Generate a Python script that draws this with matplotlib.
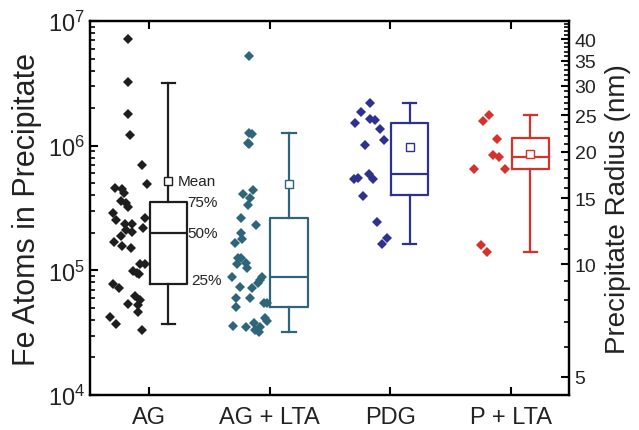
import numpy as np
import matplotlib
matplotlib.use("Agg")
import matplotlib.pyplot as plt
from matplotlib.ticker import FixedLocator, NullFormatter, LogLocator

plt.rcParams['font.family'] = ['Liberation Sans', 'DejaVu Sans']
plt.rcParams['mathtext.default'] = 'regular'
plt.rcParams['text.color'] = '#222222'
plt.rcParams['axes.labelcolor'] = '#222222'
plt.rcParams['xtick.labelcolor'] = '#222222'
plt.rcParams['ytick.labelcolor'] = '#222222'

groups = ['AG', 'AG + LTA', 'PDG', 'P + LTA']
colors = ['#1e1e1e', '#2f6579', '#2e3190', '#d6322c']

# scatter: atoms per precipitate and horizontal jitter (category units)
ag_vals = [7.18e6, 3.23e6, 1.78e6, 1.21e6, 7.05e5, 4.90e5, 4.59e5, 4.53e5, 4.21e5, 3.58e5,
           3.48e5, 3.23e5, 2.61e5, 2.91e5, 2.53e5, 2.35e5, 2.35e5, 2.10e5, 2.04e5, 2.17e5,
           1.89e5, 1.70e5, 1.57e5, 1.50e5, 1.12e5, 1.12e5, 9.95e4, 9.46e4, 9.29e4, 7.73e4,
           7.18e4, 6.28e4, 5.78e4, 5.37e4, 5.28e4, 4.61e4, 4.26e4, 3.70e4, 3.33e4]
ag_jit = [-0.17, -0.17, -0.17, -0.16, -0.055, -0.014, -0.28, -0.22, -0.21, -0.23,
          -0.19, -0.17, -0.033, -0.30, -0.27, -0.20, -0.14, -0.19, -0.14, -0.047,
          -0.23, -0.29, -0.22, -0.15, -0.074, -0.033, -0.13, -0.10, -0.08, -0.30,
          -0.25, -0.12, -0.074, -0.17, -0.093, -0.093, -0.32, -0.27, -0.06]

agl_vals = [5.21e6, 1.27e6, 1.25e6, 1.06e6, 1.04e6, 4.38e5, 4.13e5, 3.77e5, 3.33e5, 2.61e5,
            2.30e5, 2.00e5, 1.80e5, 1.67e5, 1.26e5, 1.25e5, 1.14e5, 1.12e5, 1.04e5, 8.90e4,
            8.90e4, 8.36e4, 7.87e4, 7.41e4, 7.27e4, 6.05e4, 5.97e4, 5.12e4, 5.45e4, 5.45e4,
            3.58e4, 3.54e4, 4.13e4, 3.89e4, 3.77e4, 3.33e4, 3.23e4, 3.54e4]
agl_jit = [-0.17, -0.17, -0.15, -0.18, -0.17, -0.14, -0.22, -0.16, -0.18, -0.24,
           -0.11, -0.24, -0.23, -0.29, -0.26, -0.24, -0.20, -0.27, -0.19, -0.31,
           -0.066, -0.08, -0.10, -0.25, -0.15, -0.28, -0.16, -0.28, -0.05, -0.025,
           -0.30, -0.20, -0.04, -0.025, -0.13, -0.12, -0.09, -0.08]

pdg_vals = [2.20e6, 1.86e6, 1.52e6, 1.64e6, 1.62e6, 1.35e6, 1.12e6, 1.02e6, 5.97e5, 5.55e5,
            5.37e5, 5.45e5, 3.96e5, 2.42e5, 1.83e5, 1.62e5]
pdg_jit = [-0.17, -0.24, -0.29, -0.17, -0.13, -0.09, -0.05, -0.21, -0.18, -0.27,
           -0.30, -0.14, -0.23, -0.11, -0.03, -0.07]

plta_vals = [1.77e6, 1.58e6, 1.14e6, 8.47e5, 8.12e5, 6.46e5, 6.46e5, 1.59e5, 1.41e5]
plta_jit = [-0.18, -0.23, -0.12, -0.15, -0.10, -0.31, -0.05, -0.25, -0.20]

# box statistics
q1 = [7.7e4, 5.12e4, 4.0e5, 6.55e5]
med = [1.98e5, 8.9e4, 5.97e5, 8.12e5]
q3 = [3.56e5, 2.61e5, 1.53e6, 1.15e6]
lo = [3.7e4, 3.23e4, 1.62e5, 1.41e5]
hi = [3.19e6, 1.27e6, 2.21e6, 1.77e6]
mean = [5.25e5, 4.97e5, 9.78e5, 8.63e5]

radius_ticks = [5, 10, 15, 20, 25, 30, 35, 40]

fig = plt.figure(figsize=(6.39, 4.31), dpi=100)
ax = fig.add_axes([90/639, 35/431, 479/639, 374/431])

all_vals = [ag_vals, agl_vals, pdg_vals, plta_vals]
all_jit = [ag_jit, agl_jit, pdg_jit, plta_jit]
for i, (v, j) in enumerate(zip(all_vals, all_jit)):
    x = (i + 1) + np.array(j)
    ax.plot(x, v, 'D', color=colors[i], markersize=4.6, markeredgewidth=0)

stats = []
for i in range(4):
    stats.append(dict(med=med[i], q1=q1[i], q3=q3[i], whislo=lo[i], whishi=hi[i],
                      mean=mean[i], fliers=[]))
pos = np.arange(1, 5) + 0.16
bp = ax.bxp(stats, positions=pos, widths=0.31, capwidths=0.11, showmeans=True,
            manage_ticks=False, patch_artist=False)
for i in range(4):
    c = colors[i]
    bp['boxes'][i].set(color=c, linewidth=1.6)
    bp['medians'][i].set(color=c, linewidth=1.6)
    for k in (2*i, 2*i+1):
        bp['whiskers'][k].set(color=c, linewidth=1.6)
        bp['caps'][k].set(color=c, linewidth=1.6)
    bp['means'][i].set(marker='s', markerfacecolor='white', markeredgecolor=c,
                       markersize=5.5, markeredgewidth=1.0)

ax.set_yscale('log')
ax.set_ylim(1e4, 1e7)
ax.set_xlim(0.511, 4.48)
ax.set_xticks(range(1, 5))
ax.set_xticklabels(groups, fontsize=17)
ax.yaxis.set_minor_locator(LogLocator(base=10, subs=np.arange(2, 10)))
ax.yaxis.set_minor_formatter(NullFormatter())
ax.tick_params(axis='y', which='major', direction='in', length=6, width=1.5, labelsize=17, right=False)
ax.tick_params(axis='y', which='minor', direction='in', length=3.5, width=1.2, right=False)
ax.tick_params(axis='x', which='major', direction='in', length=6, width=1.5, top=True, pad=8)
ax.set_ylabel('Fe Atoms in Precipitate', fontsize=22, labelpad=4)
for s in ax.spines.values():
    s.set_linewidth(1.6)

# labels beside the AG box
ax.text(1.24, mean[0], 'Mean', fontsize=11, va='center')
ax.text(1.32, q3[0], '75%', fontsize=11, va='center')
ax.text(1.32, med[0], '50%', fontsize=11, va='center')
ax.text(1.35, q1[0] * 1.08, '25%', fontsize=11, va='center')

ax2 = ax.twinx()
ax2.set_yscale('log')
ax2.set_ylim(4.47, 44.7)
ax2.yaxis.set_major_locator(FixedLocator(radius_ticks))
ax2.set_yticklabels([str(t) for t in radius_ticks])
ax2.yaxis.set_minor_locator(FixedLocator([r for r in range(5, 45) if r not in radius_ticks]))
ax2.yaxis.set_minor_formatter(NullFormatter())
ax2.tick_params(axis='y', which='major', direction='in', length=6, width=1.5, labelsize=14, pad=4)
ax2.tick_params(axis='y', which='minor', direction='in', length=3.5, width=1.2)
ax2.set_ylabel('Precipitate Radius (nm)', fontsize=20, labelpad=6)
for s in ax2.spines.values():
    s.set_linewidth(1.6)

fig.savefig('out.png', dpi=100)
